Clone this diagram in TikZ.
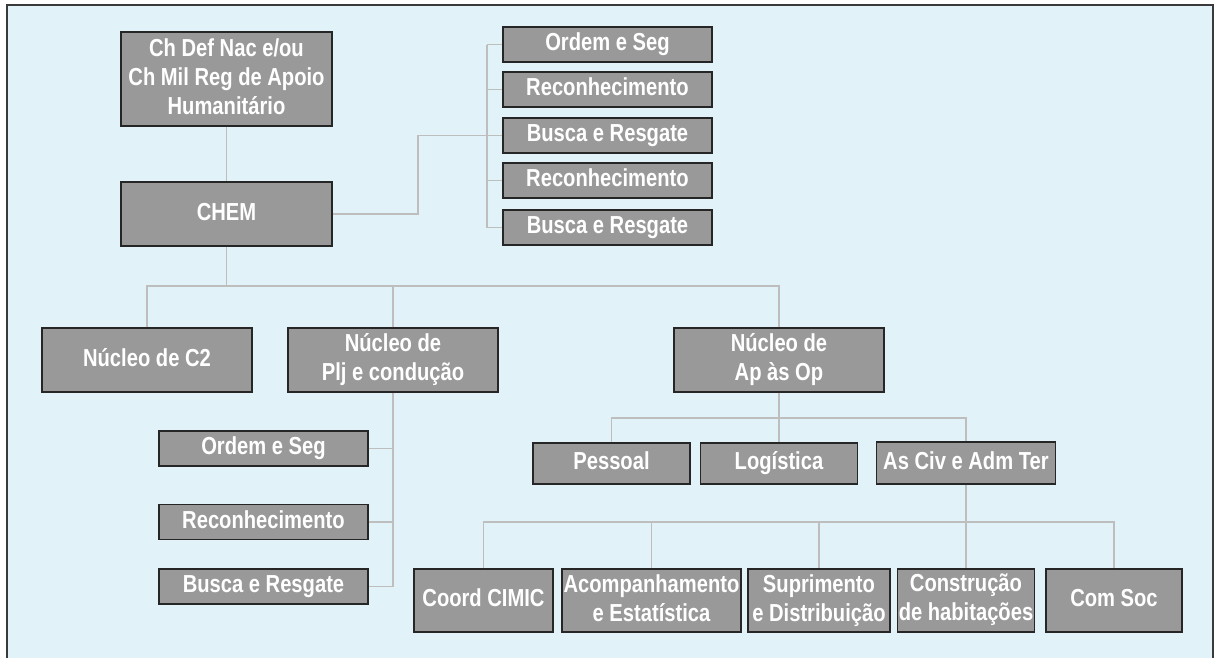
\documentclass[tikz,border=0pt]{standalone}
\usepackage{fontspec}
\setmainfont{Liberation Sans}[FakeStretch=0.82]
\usepackage{tikz}
\usetikzlibrary{positioning, calc}

\definecolor{panelblue}{HTML}{E2F2F9}
\definecolor{boxgray}{HTML}{999999}
\definecolor{linkgray}{HTML}{BEBEBE}
\definecolor{framegray}{HTML}{3A3A3A}

\begin{document}
\begin{tikzpicture}[x=0.02cm, y=-0.02cm,
    unit/.style={draw=black!85, fill=boxgray, text=white, align=center,
        font=\fontsize{14}{16.5}\selectfont\bfseries, inner sep=0pt, line width=0.7pt,
        execute at begin node={\rule{0pt}{10.5pt}},
        execute at end node={\rule[-3.3pt]{0pt}{3.3pt}}},
    boxsize/.style 2 args={minimum width=#1*0.02cm, minimum height=#2*0.02cm},
    link/.style={draw=linkgray, line width=0.8pt}]

    % Panel
    \useasboundingbox (0,0) rectangle (1215,657);
    \fill[panelblue] (7,5) rectangle (1213,665);
    \draw[framegray, line width=0.8pt] (7,665) -- (7,5) -- (1213,5) -- (1213,665);

    % Command
    \node[unit, boxsize={211}{94}] (chdef) at (226.5,79) {Ch Def Nac e/ou\\Ch Mil Reg de Apoio\\Humanitário};
    \node[unit, boxsize={211}{64}] (chem) at (226.5,214) {CHEM};

    % Teams next to CHEM
    \node[unit, boxsize={209}{35}] (r1) at (607.5,44.5) {Ordem e Seg};
    \node[unit, boxsize={209}{35}] (r2) at (607.5,89.5) {Reconhecimento};
    \node[unit, boxsize={209}{35}] (r3) at (607.5,135.5) {Busca e Resgate};
    \node[unit, boxsize={209}{35}] (r4) at (607.5,180.5) {Reconhecimento};
    \node[unit, boxsize={209}{35}] (r5) at (607.5,227.5) {Busca e Resgate};

    % Nuclei
    \node[unit, boxsize={210}{64}] (c2) at (147,360) {Núcleo de C2};
    \node[unit, boxsize={210}{64}] (plj) at (393,360) {Núcleo de\\Plj e condução};
    \node[unit, boxsize={210}{64}] (apop) at (779,360) {Núcleo de\\Ap às Op};

    % Teams under Plj
    \node[unit, boxsize={209}{35}] (l1) at (263.5,448.5) {Ordem e Seg};
    \node[unit, boxsize={209}{35}] (l2) at (263.5,522) {Reconhecimento};
    \node[unit, boxsize={209}{35}] (l3) at (263.5,586.5) {Busca e Resgate};

    % Sections under Ap as Op
    \node[unit, boxsize={157}{41}] (pessoal) at (611.5,463.5) {Pessoal};
    \node[unit, boxsize={157}{41}] (logistica) at (779,463.5) {Logística};
    \node[unit, boxsize={179}{42}] (ascivadm) at (966,463) {As Civ e Adm Ter};

    % Cells under As Civ
    \node[unit, boxsize={139}{63}] (cimic) at (483.5,600.5) {Coord CIMIC};
    \node[unit, boxsize={179}{63}] (acomp) at (651.5,600.5) {Acompanhamento\\e Estatística};
    \node[unit, boxsize={142}{63}] (supri) at (819,600.5) {Suprimento\\e Distribuição};
    \node[unit, boxsize={137}{63}] (constr) at (966,600.5) {Construção\\de habitações};
    \node[unit, boxsize={136}{63}] (comsoc) at (1114,600.5) {Com Soc};

    % Bus points
    \coordinate (busa) at (226.5,286);
    \coordinate (busr) at (418,135.5);
    \coordinate (brk) at (487,0);
    \coordinate (busb) at (779,418);
    \coordinate (busc) at (966,522);

    % Links
    \draw[link] (chdef.south) -- (chem.north);
    \draw[link] (chem.south) -- (busa);
    \foreach \n in {c2,plj,apop}
        \draw[link] (\n.north) |- (busa);
    \draw[link] (chem.east) -| (busr) -- (r3.west);
    \draw[link] (r1.west -| brk) -- (r5.west -| brk);
    \foreach \i in {1,...,5}
        \draw[link] (r\i.west) -- (r\i.west -| brk);
    \draw[link] (plj.south) |- (l3.east);
    \foreach \i in {1,2}
        \draw[link] (l\i.east) -- (l\i.east -| plj.south);
    \draw[link] (apop.south) -- (logistica.north);
    \foreach \n in {pessoal,ascivadm}
        \draw[link] (\n.north) |- (busb);
    \draw[link] (ascivadm.south) -- (constr.north);
    \foreach \n in {cimic,acomp,supri,comsoc}
        \draw[link] (\n.north) |- (busc);
\end{tikzpicture}
\end{document}
